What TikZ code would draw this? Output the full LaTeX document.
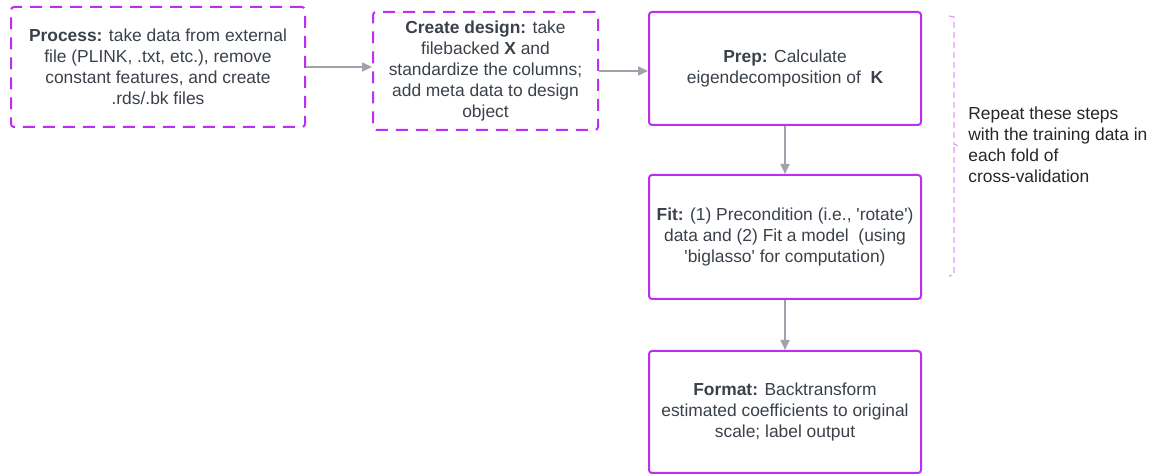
\documentclass[tikz,border=0pt]{standalone}
\usepackage{fontspec}
\setmainfont{Liberation Sans}
\usetikzlibrary{arrows.meta}
\definecolor{stepline}{HTML}{BD2FF0}
\definecolor{bracecol}{HTML}{E29AF8}
\definecolor{flowgray}{HTML}{9EA3AB}
\definecolor{textgray}{HTML}{3A414A}
\tikzset {>={Triangle[length=5pt,width=4.5pt]}}
\tikzset {stage/.style={draw=stepline,line width=1pt,rounded corners=1.5pt,align=center,text=textgray,font=\fontsize{8.7}{10.5}\selectfont,inner sep=0pt},
  optstage/.style={stage,dash pattern=on 6pt off 4pt},
  flow/.style={->,draw=flowgray,line width=0.8pt}}
\newcommand{\sq}{\textquotesingle}

\begin{document}
\begin{tikzpicture}[x=0.5pt,y=-0.5pt]
\useasboundingbox (0,0) rectangle (1155,474);
\node[optstage,minimum width=147pt,minimum height=60pt] (process) at (158,67) {\textbf{Process:} take data from external\\file (PLINK, .txt, etc.), remove\\constant features, and create\\.rds/.bk files};
\node[optstage,minimum width=112.5pt,minimum height=59pt] (design) at (485.5,71) {\textbf{Create design:} take\\filebacked \textbf{X} and\\standardize the columns;\\add meta data to design\\object};
\node[stage,minimum width=136pt,minimum height=56.5pt] (prep) at (785,68.5) {\textbf{Prep:} Calculate\\eigendecomposition of\ \ \textbf{K}};
\node[stage,minimum width=136pt,minimum height=62pt] (fit) at (785,237) {\textbf{Fit:} (1) Precondition (i.e., \sq rotate\sq)\\data and (2) Fit a model\ \ (using\\\sq biglasso\sq\ for computation)};
\node[stage,minimum width=136pt,minimum height=61pt] (format) at (785,412) {\textbf{Format:} Backtransform\\estimated coefficients to original\\scale; label output};
\draw[flow] (process) -- (process -| design.west);
\draw[flow] (design) -- (design -| prep.west);
\draw[flow] (prep) -- (fit);
\draw[flow] (fit) -- (format);
\coordinate (bracetop) at (949,16);
\coordinate (bracetip) at (958,146);
\coordinate (bracebot) at (949,276);
\draw[bracecol,line width=0.6pt,dash pattern=on 3pt off 2pt] (bracetop) -- (954,17) -- (954,144) -- (bracetip) -- (954,148) -- (954,275) -- (bracebot);
\node[anchor=west,align=left,inner sep=0pt,text=black!85,font=\fontsize{8.7}{10.5}\selectfont] (repeat) at (968,145) {Repeat these steps\\with the training data in\\each fold of\\cross-validation};
\end{tikzpicture}
\end{document}
